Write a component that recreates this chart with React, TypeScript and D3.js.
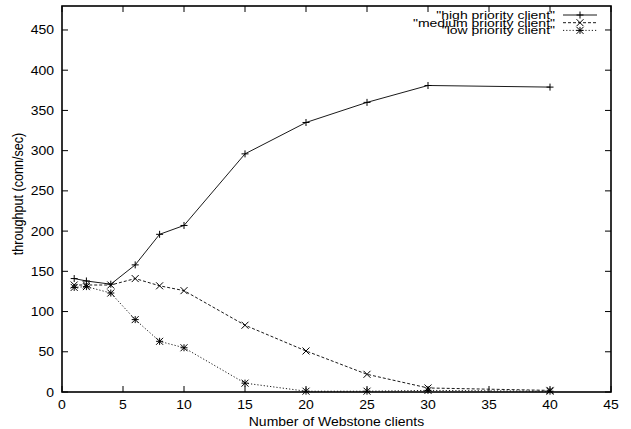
import React from "react";
import * as d3 from "d3";

const xValues = [1, 2, 4, 6, 8, 10, 15, 20, 25, 30, 40];
const highValues = [141, 138, 134, 158, 196, 207, 296, 335, 360, 381, 379];
const mediumValues = [133, 133, 133, 141, 132, 126, 83, 51, 22, 5, 2];
const lowValues = [130, 131, 123, 90, 63, 55, 11, 1, 1, 2, 1];
const xTicks = [0, 5, 10, 15, 20, 25, 30, 35, 40, 45];
const yTicks = [0, 50, 100, 150, 200, 250, 300, 350, 400, 450];
const seriesNames = ['"high priority client"', '"medium priority client"', '"low priority client"'];

const W = 631, H = 429;
const L = 62, R = 611, T = 6, B = 392;
const font = "'Liberation Sans', Arial, Helvetica, sans-serif";

function Marker({ kind, x, y }: { kind: number; x: number; y: number }) {
  const s = 3.5;
  const plus = <path d={`M${x - s},${y}H${x + s}M${x},${y - s}V${y + s}`} />;
  const cross = <path d={`M${x - s},${y - s}L${x + s},${y + s}M${x - s},${y + s}L${x + s},${y - s}`} />;
  return (
    <g stroke="#000" strokeWidth={1} fill="none">
      {kind === 0 && plus}
      {kind === 1 && cross}
      {kind === 2 && (<>{plus}{cross}</>)}
    </g>
  );
}

function T2({ x, y, anchor, sy = 0.9, children }: { x: number; y: number; anchor: string; sy?: number; children: React.ReactNode }) {
  return (
    <g transform={`translate(${x},${y}) scale(1,${sy})`}>
      <text x={0} y={0} textAnchor={anchor}>{children}</text>
    </g>
  );
}

export default function App() {
  const x = d3.scaleLinear().domain([0, 45]).range([L, R]);
  const y = d3.scaleLinear().domain([0, 479.8]).range([B, T]);
  const series = [highValues, mediumValues, lowValues];
  const dashes = [undefined, "3,2", "1.2,2"];
  const line = d3.line<number>().x((_, i) => x(xValues[i])).y((v) => y(v));
  const tick = 6;
  return (
    <svg width={W} height={H} style={{ position: "absolute", left: 0, top: 0 }}>
      <rect width={W} height={H} fill="#fff" />
      <g stroke="#000" strokeWidth={1}>
        {xTicks.map((t) => (
          <g key={"x" + t}>
            <line x1={x(t)} x2={x(t)} y1={B} y2={B - tick} />
            <line x1={x(t)} x2={x(t)} y1={T} y2={T + tick} />
          </g>
        ))}
        {yTicks.map((t) => (
          <g key={"y" + t}>
            <line x1={L} x2={L + tick} y1={y(t)} y2={y(t)} />
            <line x1={R} x2={R - tick} y1={y(t)} y2={y(t)} />
          </g>
        ))}
      </g>
      <rect x={L} y={T} width={R - L} height={B - T} fill="none" stroke="#000" strokeWidth={1.6} />
      <g fontFamily={font} fontSize={14} fill="#000">
        {xTicks.map((t) => (
          <T2 key={"xl" + t} x={x(t)} y={B + 16.5} anchor="middle">{t}</T2>
        ))}
        {yTicks.map((t) => (
          <T2 key={"yl" + t} x={54} y={y(t) + 4.5} anchor="end">{t}</T2>
        ))}
        <T2 x={(L + R) / 2} y={426} anchor="middle" sy={0.85}>Number of Webstone clients</T2>
        <g transform={`translate(23,194) scale(1,0.9) rotate(-90)`}>
          <text x={0} y={0} textAnchor="middle">throughput (conn/sec)</text>
        </g>
      </g>
      {series.map((vals, k) => (
        <g key={"s" + k}>
          <path d={line(vals) || ""} fill="none" stroke="#000" strokeWidth={0.9} strokeDasharray={dashes[k]} />
          {vals.map((v, i) => (
            <Marker key={i} kind={k} x={x(xValues[i])} y={y(v)} />
          ))}
        </g>
      ))}
      <g fontFamily={font} fontSize={14} fill="#000">
        {seriesNames.map((n, k) => {
          const base = 19 + k * 7.7;
          const ly = base - 4;
          return (
            <g key={"l" + k}>
              <T2 x={555} y={base} anchor="end" sy={0.75}>{n}</T2>
              <line x1={563} x2={597} y1={ly} y2={ly} stroke="#000" strokeWidth={0.9} strokeDasharray={dashes[k]} />
              <Marker kind={k} x={580} y={ly} />
            </g>
          );
        })}
      </g>
    </svg>
  );
}
